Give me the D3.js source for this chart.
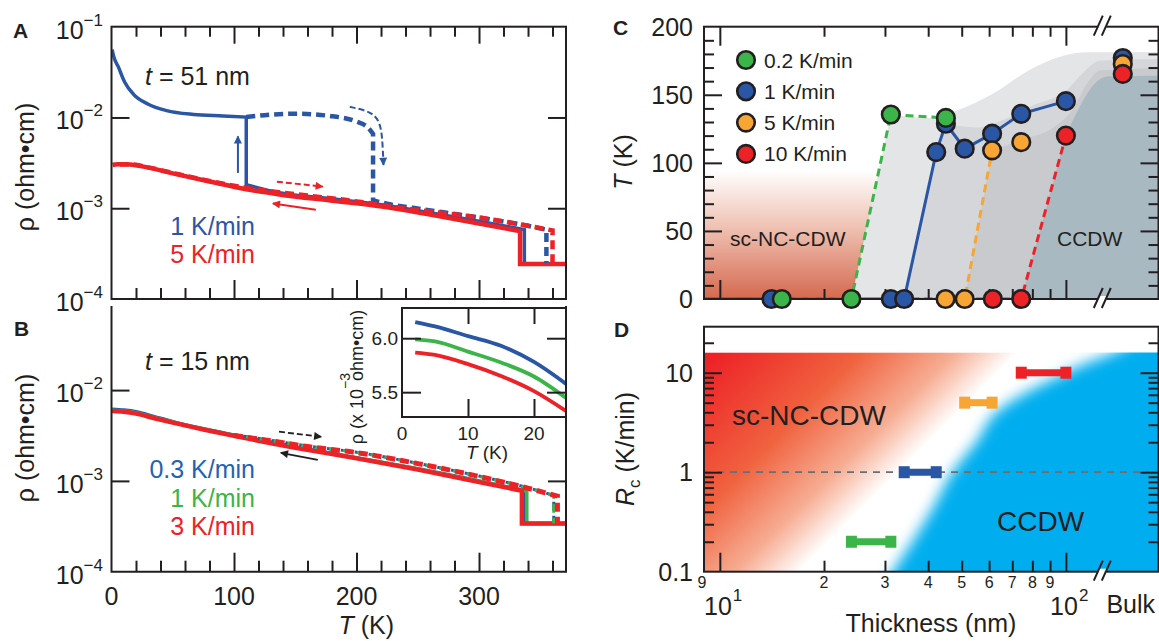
<!DOCTYPE html>
<meta charset="utf-8">
<html>
<head>
<script src="https://cdn.jsdelivr.net/npm/d3@7"></script>
<style>
  body { margin: 0; background: #fff; }
  text { font-family: "Liberation Sans", Arial, Helvetica, sans-serif; fill: #231f20; }
</style>
</head>
<body>
<div id="fig"></div>
<script>
// ---------------- data ----------------
// panel A, t = 51 nm : [T (K), rho (ohm cm)]
var aBlueCool = [[0.5,0.056],[2,0.046],[5.5,0.0363],[10.6,0.0248],[18,0.018],[30,0.014],[45,0.0119],[67,0.0108],[91,0.0104],[110,0.0101],[110,1.82e-3],[137,1.48e-3],[180,1.27e-3],[219,1.1e-3],[260,8.9e-4],[300,7.2e-4],[337,5.8e-4],[337,2.43e-4],[371,2.43e-4]];
var aRedCool  = [[1,3.0e-3],[5,3.06e-3],[15,3.04e-3],[30,2.8e-3],[50,2.42e-3],[80,1.97e-3],[110,1.62e-3],[137,1.42e-3],[180,1.21e-3],[219,1.05e-3],[260,8.5e-4],[300,6.8e-4],[333.5,5.6e-4],[333.5,2.43e-4],[371,2.43e-4]];
var aBlueWarm = [[110,0.0101],[125,0.0106],[150,0.011],[178,0.0104],[200,9.0e-3],[209,7.8e-3],[213.5,6.6e-3],[213.5,1.22e-3],[225,1.12e-3],[246,1.01e-3],[300,7.9e-4],[340,6.4e-4],[355,5.8e-4],[355,2.5e-4]];
var aRedWarm  = [[1,3.0e-3],[15,3.05e-3],[30,2.82e-3],[50,2.45e-3],[80,2.0e-3],[110,1.68e-3],[137,1.5e-3],[192,1.23e-3],[246,9.7e-4],[300,7.9e-4],[340,6.4e-4],[360,5.7e-4],[360,2.5e-4]];

// panel B, t = 15 nm
var bBlueCool  = [[0.5,6.15e-3],[10,6.02e-3],[20,5.78e-3],[35,5.1e-3],[50,4.5e-3],[75,3.75e-3],[100,3.2e-3],[150,2.37e-3],[200,1.8e-3],[250,1.36e-3],[300,1.0e-3],[337,7.8e-4],[337,3.4e-4],[371,3.4e-4]];
var bGreenCool = [[0.5,5.99e-3],[10,5.88e-3],[20,5.65e-3],[35,5.0e-3],[50,4.45e-3],[75,3.72e-3],[100,3.17e-3],[150,2.35e-3],[200,1.79e-3],[250,1.35e-3],[300,9.9e-4],[339,7.7e-4],[339,3.4e-4],[371,3.4e-4]];
var bRedCool   = [[0.5,5.87e-3],[10,5.76e-3],[20,5.51e-3],[35,4.9e-3],[50,4.38e-3],[75,3.68e-3],[100,3.13e-3],[150,2.32e-3],[200,1.77e-3],[250,1.33e-3],[300,9.7e-4],[335,7.8e-4],[335,3.4e-4],[371,3.4e-4]];
var bBlueWarm  = [[100,3.22e-3],[130,2.8e-3],[160,2.42e-3],[200,2.07e-3],[250,1.56e-3],[300,1.13e-3],[340,8.4e-4],[361,6.9e-4],[361,3.4e-4]];
var bGreenWarm = [[100,3.19e-3],[130,2.78e-3],[160,2.4e-3],[200,2.06e-3],[250,1.55e-3],[300,1.12e-3],[340,8.4e-4],[361,6.9e-4],[361,3.4e-4]];
var bRedWarm   = [[100,3.16e-3],[130,2.76e-3],[160,2.39e-3],[200,2.05e-3],[250,1.55e-3],[300,1.12e-3],[340,8.3e-4],[364,6.8e-4],[364,3.4e-4]];

// inset of B : rho in 1e-3 ohm cm
var insetT     = [2, 5, 10, 15, 20, 25];
var insetBlue  = [6.15, 6.11, 6.02, 5.93, 5.78, 5.57];
var insetGreen = [5.99, 5.97, 5.876, 5.775, 5.645, 5.44];
var insetRed   = [5.867, 5.845, 5.76, 5.65, 5.51, 5.32];

// panel C : [thickness (nm), T (K)] ; bulk plotted past the axis break
var BULK = 146, BREAK = 127.4;
var cGreenLine  = [[15.1,0],[24,0],[31.2,135.5],[45,133]];
var cBlueLine   = [[9,0],[34.1,0],[42.2,107.9],[45,128.7],[51,110.4],[61.2,121.4],[74.3,136],[100,145.3]];
var cOrangeLine = [[34.1,0],[51,0],[61.2,109.2]];
var cRedLine    = [[34.1,0],[74.3,0],[100,120]];
var cBluePts    = [[14.1,0],[31.2,0],[34.1,0],[42.2,107.9],[45,128.7],[51,110.4],[61.2,121.4],[74.3,136],[100,145.3],[BULK,177]];
var cOrangePts  = [[44.9,0],[51,0],[61.2,109.2],[74.3,115.2],[BULK,172.6]];
var cRedPts     = [[61.5,0],[74.3,0],[100,120],[BULK,165.3]];
var cGreenPts   = [[15.1,0],[24,0],[31.2,135.5],[45,133]];
// upper edges of the grey regions
var band1Top = [[31.2,135.5],[40,133],[48.4,138.5],[61.5,150.7],[78,167.8],[98.9,178.8],[114,181.2],[185.8,181.5]];
var band2Top = [[45,128.7],[55,126],[65,131],[80,142],[100,153],[112,166],[125,175],[185.8,176.3]];
var band3Top = [[61.2,109.2],[74.3,117],[92,126],[105,140],[115,158],[126,168],[185.8,169.5]];
var band4Top = [[100,120],[108,138],[116,152],[122,159],[132,163.5],[185.8,164]];
var legendRates = ["0.2 K/min", "1 K/min", "5 K/min", "10 K/min"];

// panel D
var dRates  = [0.2, 1, 5, 10];
var dThinLo = [24, 34.1, 51, 74.3];
var dThinHi = [31.2, 42.2, 61.2, 100];
var blueEdge = [[28,0.05],[31.6,0.1],[36,0.2],[41,0.42],[47,1],[55,2],[64,4.2],[78,6.5],[94,9],[115,12.5],[138,16],[170,25],[300,25],[300,0.05]];

var rateColors = ["#3bb44a", "#2a56a6", "#f7a533", "#ec2227"];
var BLUE = "#2a56a6", RED = "#ec2227", GREEN = "#3bb44a", ORANGE = "#f7a533", INK = "#231f20";

// ---------------- svg ----------------
var W = 1159, H = 641;
var svg = d3.select("#fig").append("svg").attr("width", W).attr("height", H);
var defs = svg.append("defs");

function clip(id, x0, y0, x1, y1) {
  defs.append("clipPath").attr("id", id).append("rect")
    .attr("x", x0).attr("y", y0).attr("width", x1 - x0).attr("height", y1 - y0);
}

// smooth curve that keeps vertical jumps sharp
function pathOf(pts, x, y) {
  var gen = d3.line().x(function(d){ return x(d[0]); }).y(function(d){ return y(d[1]); }).curve(d3.curveMonotoneX);
  var segs = [], cur = [pts[0]];
  for (var i = 1; i < pts.length; i++) {
    if (pts[i][0] === pts[i-1][0]) { segs.push(cur); segs.push([pts[i-1], pts[i]]); cur = [pts[i]]; }
    else cur.push(pts[i]);
  }
  segs.push(cur);
  return segs.filter(function(s){ return s.length > 1; })
    .map(function(s, i){ var p = gen(s); return i ? "L" + p.slice(1) : p; }).join("");
}

function ticks(g, axisFn, scale, vals, len, tx, ty) {
  g.append("g").attr("transform", "translate(" + tx + "," + ty + ")")
    .attr("color", INK)
    .call(axisFn(scale).tickValues(vals).tickSize(-len).tickFormat(""))
    .call(function(s){ s.select(".domain").remove(); s.selectAll("line").attr("stroke-width", 2); s.selectAll("text").remove(); });
}

function pow10(g, x, y, exp, anchor) {
  var t = g.append("text").attr("x", x).attr("y", y).attr("text-anchor", anchor || "end").attr("font-size", 25);
  t.append("tspan").text("10");
  t.append("tspan").attr("font-size", 17).attr("dy", -13).text(exp);
  return t;
}

function arrowMarker(id, color) {
  defs.append("marker").attr("id", id).attr("viewBox", "0 0 10 10")
    .attr("refX", 9).attr("refY", 5).attr("markerWidth", 11).attr("markerHeight", 8)
    .attr("markerUnits", "userSpaceOnUse").attr("orient", "auto")
    .append("path").attr("d", "M0,0L10,5L0,10Z").attr("fill", color);
}
arrowMarker("arB", BLUE); arrowMarker("arR", RED); arrowMarker("arK", INK);

// ---------------- panel A ----------------
var A = {x0: 111.5, x1: 566, y0: 26.7, y1: 299};
var xA = d3.scaleLinear().domain([0, 371]).range([A.x0, A.x1]);
var yA = d3.scaleLog().domain([1e-4, 1e-1]).range([A.y1, A.y0]);
clip("clipA", A.x0, A.y0, A.x1, A.y1);
var gA = svg.append("g");
var cA = gA.append("g").attr("clip-path", "url(#clipA)");

cA.append("path").attr("d", pathOf(aBlueCool, xA, yA)).attr("fill", "none").attr("stroke", BLUE).attr("stroke-width", 3.5);
cA.append("path").attr("d", pathOf(aRedCool, xA, yA)).attr("fill", "none").attr("stroke", RED).attr("stroke-width", 4.5);
cA.append("path").attr("d", pathOf(aBlueWarm, xA, yA)).attr("fill", "none").attr("stroke", BLUE).attr("stroke-width", 4.5).attr("stroke-dasharray", "9,5");
cA.append("path").attr("d", pathOf(aRedWarm, xA, yA)).attr("fill", "none").attr("stroke", RED).attr("stroke-width", 4.5).attr("stroke-dasharray", "9,5").attr("stroke-dashoffset", 7);

var lineA = d3.line().x(function(d){ return xA(d[0]); }).y(function(d){ return yA(d[1]); });
gA.append("path").attr("d", lineA([[103.2,2.45e-3],[103.2,6.2e-3]])).attr("stroke", BLUE).attr("stroke-width", 2).attr("marker-end", "url(#arB)");
gA.append("path").attr("d", lineA.curve(d3.curveBasis)([[194.5,1.31e-2],[212,1.16e-2],[218.5,9.2e-3],[221,6.5e-3],[222,3.0e-3]]))
  .attr("fill", "none").attr("stroke", BLUE).attr("stroke-width", 2).attr("stroke-dasharray", "6,3").attr("marker-end", "url(#arB)");
lineA.curve(d3.curveLinear);
gA.append("path").attr("d", lineA([[135,1.96e-3],[172.5,1.73e-3]])).attr("stroke", RED).attr("stroke-width", 2).attr("stroke-dasharray", "6,3").attr("marker-end", "url(#arR)");
gA.append("path").attr("d", lineA([[166.8,9.6e-4],[131.7,1.13e-3]])).attr("stroke", RED).attr("stroke-width", 2).attr("marker-end", "url(#arR)");

gA.append("rect").attr("x", A.x0).attr("y", A.y0).attr("width", A.x1 - A.x0).attr("height", A.y1 - A.y0)
  .attr("fill", "none").attr("stroke", INK).attr("stroke-width", 2);
var tT = d3.range(20, 371, 20).filter(function(v){ return v % 100; });
ticks(gA, d3.axisTop, xA, tT, 10, 0, A.y0);
ticks(gA, d3.axisTop, xA, [100, 200, 300], 17, 0, A.y0);
ticks(gA, d3.axisBottom, xA, tT, 11, 0, A.y1);
ticks(gA, d3.axisBottom, xA, [100, 200, 300], 19, 0, A.y1);
ticks(gA, d3.axisLeft, yA, [1e-3, 1e-2], 18, A.x0, 0);
ticks(gA, d3.axisRight, yA, [1e-3, 1e-2], 18, A.x1, 0);
[["\u22121",1e-1],["\u22122",1e-2],["\u22123",1e-3],["\u22124",1e-4]].forEach(function(d){ pow10(gA, 103, yA(d[1]) + 12, d[0]); });
gA.append("text").attr("transform", "translate(34,167) rotate(-90)").attr("text-anchor", "middle").attr("font-size", 25).text("\u03c1 (ohm\u2022cm)");
var tA = gA.append("text").attr("x", 145).attr("y", 85).attr("font-size", 25);
tA.append("tspan").attr("font-style", "italic").text("t");
tA.append("tspan").text(" = 51 nm");
gA.append("text").attr("x", 255).attr("y", 235).attr("text-anchor", "end").attr("font-size", 25).style("fill", BLUE).text("1 K/min");
gA.append("text").attr("x", 255).attr("y", 263).attr("text-anchor", "end").attr("font-size", 25).style("fill", RED).text("5 K/min");
gA.append("text").attr("x", 13).attr("y", 38).attr("font-size", 21).attr("font-weight", "bold").text("A");

// ---------------- panel B ----------------
var B = {x0: 111.5, x1: 566, y0: 306, y1: 571.7};
var xB = d3.scaleLinear().domain([0, 371]).range([B.x0, B.x1]);
var yB = d3.scaleLog().domain([1e-4, Math.pow(10, -1.074)]).range([B.y1, B.y0]);
clip("clipB", B.x0, B.y0, B.x1, B.y1);
var gB = svg.append("g");
var cB = gB.append("g").attr("clip-path", "url(#clipB)");
[[bBlueCool, BLUE, 3.5], [bGreenCool, GREEN, 3.5], [bRedCool, RED, 4.5]].forEach(function(s){
  cB.append("path").attr("d", pathOf(s[0], xB, yB)).attr("fill", "none").attr("stroke", s[1]).attr("stroke-width", s[2]);
});
[[bBlueWarm, BLUE, 3, 4], [bGreenWarm, GREEN, 3, 2], [bRedWarm, RED, 5, 0]].forEach(function(s){
  cB.append("path").attr("d", pathOf(s[0], xB, yB)).attr("fill", "none").attr("stroke", s[1]).attr("stroke-width", s[2])
    .attr("stroke-dasharray", "9,5").attr("stroke-dashoffset", s[3]);
});
var lineB = d3.line().x(function(d){ return xB(d[0]); }).y(function(d){ return yB(d[1]); });
gB.append("path").attr("d", lineB([[136.7,3.48e-3],[171.3,3.06e-3]])).attr("stroke", INK).attr("stroke-width", 1.8).attr("stroke-dasharray", "6,3").attr("marker-end", "url(#arK)");
gB.append("path").attr("d", lineB([[168.4,1.7e-3],[138.2,2.04e-3]])).attr("stroke", INK).attr("stroke-width", 1.8).attr("marker-end", "url(#arK)");

gB.append("path").attr("d", "M" + B.x0 + "," + B.y0 + "V" + B.y1 + "H" + B.x1 + "V" + B.y0)
  .attr("fill", "none").attr("stroke", INK).attr("stroke-width", 2);
ticks(gB, d3.axisBottom, xB, tT, 11, 0, B.y1);
ticks(gB, d3.axisBottom, xB, [100, 200, 300], 19, 0, B.y1);
ticks(gB, d3.axisLeft, yB, [1e-3, 1e-2], 18, B.x0, 0);
ticks(gB, d3.axisRight, yB, [1e-3, 1e-2], 18, B.x1, 0);
[["\u22122",1e-2],["\u22123",1e-3],["\u22124",1e-4]].forEach(function(d){ pow10(gB, 103, yB(d[1]) + 12, d[0]); });
[0, 100, 200, 300].forEach(function(v){
  gB.append("text").attr("x", xB(v)).attr("y", 605).attr("text-anchor", "middle").attr("font-size", 25).text(v);
});
var tBx = gB.append("text").attr("x", xB(208)).attr("y", 634).attr("text-anchor", "middle").attr("font-size", 25);
tBx.append("tspan").attr("font-style", "italic").text("T");
tBx.append("tspan").text(" (K)");
gB.append("text").attr("transform", "translate(34,438) rotate(-90)").attr("text-anchor", "middle").attr("font-size", 25).text("\u03c1 (ohm\u2022cm)");
var tB = gB.append("text").attr("x", 145).attr("y", 370).attr("font-size", 25);
tB.append("tspan").attr("font-style", "italic").text("t");
tB.append("tspan").text(" = 15 nm");
[["0.3 K/min", "#1f63b3", 478], ["1 K/min", GREEN, 507], ["3 K/min", RED, 535]].forEach(function(d){
  gB.append("text").attr("x", 255).attr("y", d[2]).attr("text-anchor", "end").attr("font-size", 25).style("fill", d[1]).text(d[0]);
});
gB.append("text").attr("x", 14).attr("y", 336).attr("font-size", 21).attr("font-weight", "bold").text("B");

// inset
var I = {x0: 402, x1: 566, y0: 308, y1: 417};
var xI = d3.scaleLinear().domain([0, 24.85]).range([I.x0, I.x1]);
var yI = d3.scaleLinear().domain([5.27, 6.28]).range([I.y1, I.y0]);
var gI = gB.append("g");
gI.append("rect").attr("x", I.x0).attr("y", I.y0).attr("width", I.x1 - I.x0).attr("height", I.y1 - I.y0).attr("fill", "#fff");
clip("clipI", I.x0, I.y0, I.x1, I.y1);
var lineI = d3.line().x(function(d){ return xI(d[0]); }).y(function(d){ return yI(d[1]); }).curve(d3.curveMonotoneX);
[[insetBlue, BLUE], [insetGreen, GREEN], [insetRed, RED]].forEach(function(s){
  gI.append("path").attr("clip-path", "url(#clipI)").attr("d", lineI(insetT.map(function(t, i){ return [t, s[0][i]]; })))
    .attr("fill", "none").attr("stroke", s[1]).attr("stroke-width", 3.8);
});
gI.append("rect").attr("x", I.x0).attr("y", I.y0).attr("width", I.x1 - I.x0).attr("height", I.y1 - I.y0)
  .attr("fill", "none").attr("stroke", INK).attr("stroke-width", 2);
ticks(gI, d3.axisTop, xI, [10, 20], 16, 0, I.y0);
ticks(gI, d3.axisBottom, xI, [10, 20], 18, 0, I.y1);
ticks(gI, d3.axisLeft, yI, [5.5, 6.0], 19, I.x0, 0);
ticks(gI, d3.axisRight, yI, [5.5, 6.0], 19, I.x1, 0);
[5.5, 6.0].forEach(function(v){
  gI.append("text").attr("x", 398).attr("y", yI(v) + 7).attr("text-anchor", "end").attr("font-size", 19).text(v.toFixed(1));
});
[0, 10, 20].forEach(function(v){
  gI.append("text").attr("x", xI(v)).attr("y", 440).attr("text-anchor", "middle").attr("font-size", 19).text(v);
});
var tIx = gI.append("text").attr("x", 487).attr("y", 459).attr("text-anchor", "middle").attr("font-size", 19);
tIx.append("tspan").attr("font-style", "italic").text("T");
tIx.append("tspan").text(" (K)");
var tIy = gI.append("text").attr("transform", "translate(363,377) rotate(-90)").attr("text-anchor", "middle").attr("font-size", 18);
tIy.append("tspan").text("\u03c1 (x 10");
tIy.append("tspan").attr("font-size", 14).attr("dy", -13).text("\u22123");
tIy.append("tspan").attr("dx", -8).attr("dy", 13).text("ohm\u2022cm)");

// ---------------- panels C and D, shared thickness axis ----------------
var xT = d3.scaleLog().domain([9, 185.8]).range([704, 1159]);
var C = {x0: 704, x1: 1158.5, y0: 26.7, y1: 299};
var yC = d3.scaleLinear().domain([0, 200]).range([C.y1, C.y0]);
clip("clipC", C.x0, C.y0, C.x1, C.y1);
var gC = svg.append("g");
var cC = gC.append("g").attr("clip-path", "url(#clipC)");

var gradC = defs.append("linearGradient").attr("id", "gradC").attr("gradientUnits", "userSpaceOnUse")
  .attr("x1", 0).attr("y1", yC(95)).attr("x2", 0).attr("y2", yC(0));
gradC.append("stop").attr("offset", 0).attr("stop-color", "#ffffff");
gradC.append("stop").attr("offset", 0.45).attr("stop-color", "#efc1b2");
gradC.append("stop").attr("offset", 1).attr("stop-color", "#d5694f");
cC.append("rect").attr("x", C.x0).attr("y", yC(95)).attr("width", xT(32) - C.x0).attr("height", yC(0) - yC(95)).attr("fill", "url(#gradC)");

var topGen = d3.line().x(function(d){ return xT(d[0]); }).y(function(d){ return yC(d[1]); }).curve(d3.curveMonotoneX);
function band(leftEdge, top, color) {
  // leftEdge goes from the T = 0 foot up to the first point of top
  var p = topGen(top) + "L" + xT(185.8) + "," + yC(0);
  leftEdge.forEach(function(d){ p += "L" + xT(d[0]) + "," + yC(d[1]); });
  cC.append("path").attr("d", p + "Z").attr("fill", color);
}
band([[24,0]], band1Top, "#e4e5e7");
band([[34.1,0],[42.2,107.9]], band2Top, "#d5d6d9");
band([[51,0]], band3Top, "#c8cacd");
band([[74.3,0]], band4Top, "#a8b9c2");

var lineC = d3.line().x(function(d){ return xT(d[0]); }).y(function(d){ return yC(d[1]); });
cC.append("path").attr("d", lineC(cBlueLine)).attr("fill", "none").attr("stroke", BLUE).attr("stroke-width", 3);
cC.append("path").attr("d", lineC(cGreenLine)).attr("fill", "none").attr("stroke", GREEN).attr("stroke-width", 3).attr("stroke-dasharray", "8,5");
cC.append("path").attr("d", lineC(cOrangeLine)).attr("fill", "none").attr("stroke", ORANGE).attr("stroke-width", 3).attr("stroke-dasharray", "8,5");
cC.append("path").attr("d", lineC(cRedLine)).attr("fill", "none").attr("stroke", RED).attr("stroke-width", 3).attr("stroke-dasharray", "8,5").attr("stroke-dashoffset", 6);

gC.append("rect").attr("x", C.x0).attr("y", C.y0).attr("width", C.x1 - C.x0).attr("height", C.y1 - C.y0)
  .attr("fill", "none").attr("stroke", INK).attr("stroke-width", 2);
var tMinor = [20, 30, 40, 50, 60, 70, 80, 90];
ticks(gC, d3.axisTop, xT, tMinor, 10, 0, C.y0);
ticks(gC, d3.axisTop, xT, [10, 100], 19, 0, C.y0);
ticks(gC, d3.axisBottom, xT, tMinor, 10, 0, C.y1);
ticks(gC, d3.axisBottom, xT, [10, 100], 19, 0, C.y1);
var cMinor = d3.range(10, 200, 10).filter(function(v){ return v % 50; });
ticks(gC, d3.axisLeft, yC, cMinor, 10, C.x0, 0);
ticks(gC, d3.axisLeft, yC, [50, 100, 150], 18, C.x0, 0);
ticks(gC, d3.axisRight, yC, cMinor, 10, C.x1, 0);
ticks(gC, d3.axisRight, yC, [50, 100, 150], 18, C.x1, 0);

// markers (blue first so the others sit on top)
[[cBluePts, BLUE], [cOrangePts, ORANGE], [cRedPts, RED], [cGreenPts, GREEN]].forEach(function(s){
  gC.append("g").selectAll("circle").data(s[0]).join("circle")
    .attr("cx", function(d){ return xT(d[0]); }).attr("cy", function(d){ return yC(d[1]); })
    .attr("r", 8.8).attr("fill", s[1]).attr("stroke", INK).attr("stroke-width", 2.6);
});

function axisBreak(g, x, y) {
  g.append("rect").attr("x", x - 4).attr("y", y - 3).attr("width", 8).attr("height", 6).attr("fill", "#fff");
  [-4, 4].forEach(function(o){
    g.append("line").attr("x1", x + o - 4.5).attr("y1", y + 9).attr("x2", x + o + 4.5).attr("y2", y - 11)
      .attr("stroke", INK).attr("stroke-width", 2);
  });
}
axisBreak(gC, xT(BREAK), C.y0);
axisBreak(gC, xT(BREAK), C.y1);

[0, 50, 100, 150, 200].forEach(function(v){
  gC.append("text").attr("x", 693).attr("y", yC(v) + 9).attr("text-anchor", "end").attr("font-size", 25).text(v);
});
var tCy = gC.append("text").attr("transform", "translate(632,162) rotate(-90)").attr("text-anchor", "middle").attr("font-size", 25);
tCy.append("tspan").attr("font-style", "italic").text("T");
tCy.append("tspan").text(" (K)");
legendRates.forEach(function(r, i){
  var yy = 60 + i * 31.3;
  gC.append("circle").attr("cx", 746).attr("cy", yy).attr("r", 8.8).attr("fill", rateColors[i]).attr("stroke", INK).attr("stroke-width", 2.6);
  gC.append("text").attr("x", 764).attr("y", yy + 7.5).attr("font-size", 21).text(r);
});
gC.append("text").attr("x", 730).attr("y", 246).attr("font-size", 21).text("sc-NC-CDW");
gC.append("text").attr("x", 1057).attr("y", 246).attr("font-size", 21).text("CCDW");
gC.append("text").attr("x", 613).attr("y", 35).attr("font-size", 21).attr("font-weight", "bold").text("C");

// ---------------- panel D ----------------
var D = {x0: 704, x1: 1158.5, y0: 326.7, y1: 571.7};
var yD = d3.scaleLog().domain([0.1, 29]).range([D.y1, D.y0]);
clip("clipD", D.x0, yD(16), D.x1, D.y1);
var gD = svg.append("g");
var cD = gD.append("g").attr("clip-path", "url(#clipD)");

var gradD = defs.append("linearGradient").attr("id", "gradD").attr("gradientUnits", "userSpaceOnUse")
  .attr("x1", D.x0).attr("y1", yD(16)).attr("x2", D.x0 + 157).attr("y2", yD(16) + 157);
gradD.append("stop").attr("offset", 0).attr("stop-color", "#ed1c24");
gradD.append("stop").attr("offset", 0.5).attr("stop-color", "#f0623f");
gradD.append("stop").attr("offset", 0.8).attr("stop-color", "#f6ad93");
gradD.append("stop").attr("offset", 1).attr("stop-color", "#ffffff");
cD.append("rect").attr("x", D.x0).attr("y", yD(16)).attr("width", D.x1 - D.x0).attr("height", D.y1 - yD(16)).attr("fill", "url(#gradD)");

defs.append("filter").attr("id", "soft").attr("x", "-20%").attr("y", "-20%").attr("width", "140%").attr("height", "140%")
  .append("feGaussianBlur").attr("stdDeviation", 7);
var lineD = d3.line().x(function(d){ return xT(d[0]); }).y(function(d){ return yD(d[1]); });
cD.append("path").attr("d", lineD.curve(d3.curveMonotoneY)(blueEdge.slice(0, 12)) + lineD.curve(d3.curveLinear)(blueEdge.slice(11)).replace("M", "L") + "Z")
  .attr("fill", "#00aeef").attr("filter", "url(#soft)");

gD.append("line").attr("x1", D.x0).attr("x2", D.x1).attr("y1", yD(1)).attr("y2", yD(1))
  .attr("stroke", "#6d6e71").attr("stroke-width", 1.8).attr("stroke-dasharray", "7,6");

dRates.forEach(function(r, i){
  var y = yD(r), a = xT(dThinLo[i]), b = xT(dThinHi[i]);
  gD.append("line").attr("x1", a).attr("x2", b).attr("y1", y).attr("y2", y).attr("stroke", rateColors[i]).attr("stroke-width", 7);
  [a, b].forEach(function(x){
    gD.append("rect").attr("x", x - 5.5).attr("y", y - 6).attr("width", 11).attr("height", 12).attr("fill", rateColors[i]);
  });
});

gD.append("rect").attr("x", D.x0).attr("y", D.y0).attr("width", D.x1 - D.x0).attr("height", D.y1 - D.y0)
  .attr("fill", "none").attr("stroke", INK).attr("stroke-width", 2);
ticks(gD, d3.axisBottom, xT, tMinor, 11, 0, D.y1);
ticks(gD, d3.axisBottom, xT, [10, 100], 19, 0, D.y1);
var dMinor = [0.2,0.3,0.4,0.5,0.6,0.7,0.8,0.9,2,3,4,5,6,7,8,9,20];
ticks(gD, d3.axisLeft, yD, dMinor, 10, D.x0, 0);
ticks(gD, d3.axisLeft, yD, [1, 10], 18, D.x0, 0);
ticks(gD, d3.axisRight, yD, dMinor, 10, D.x1, 0);
ticks(gD, d3.axisRight, yD, [1, 10], 18, D.x1, 0);
axisBreak(gD, xT(BREAK), D.y1);

[[10, "10"], [1, "1"], [0.1, "0.1"]].forEach(function(d){
  gD.append("text").attr("x", 693).attr("y", yD(d[0]) + 9).attr("text-anchor", "end").attr("font-size", 25).text(d[1]);
});
[9, 20, 30, 40, 50, 60, 70, 80, 90].forEach(function(v){
  gD.append("text").attr("x", xT(v) - (v === 9 ? 2 : 0)).attr("y", 588).attr("text-anchor", "middle").attr("font-size", 16).text(String(v).charAt(0));
});
// decade labels: "10" and exponent as separate texts
[[10, "1"], [100, "2"]].forEach(function(d){
  var xc = xT(d[0]) - 2;
  gD.append("text").attr("x", xc + 14).attr("y", 615).attr("text-anchor", "end").attr("font-size", 25).text("10");
  gD.append("text").attr("x", xc + 15).attr("y", 601).attr("font-size", 17).text(d[1]);
});
gD.append("text").attr("x", xT(BULK) + 8).attr("y", 613).attr("text-anchor", "middle").attr("font-size", 25).text("Bulk");
gD.append("text").attr("x", 931).attr("y", 632).attr("text-anchor", "middle").attr("font-size", 25).text("Thickness (nm)");
var tDy = gD.append("text").attr("transform", "translate(634,449) rotate(-90)").attr("text-anchor", "middle").attr("font-size", 25);
tDy.append("tspan").attr("font-style", "italic").text("R");
tDy.append("tspan").attr("font-size", 17).attr("dy", 6).text("c");
tDy.append("tspan").attr("dy", -6).text(" (K/min)");
gD.append("text").attr("x", 732).attr("y", 425).attr("font-size", 28).text("sc-NC-CDW");
gD.append("text").attr("x", 997).attr("y", 531).attr("font-size", 28).text("CCDW");
gD.append("text").attr("x", 614).attr("y", 337).attr("font-size", 21).attr("font-weight", "bold").text("D");
</script>
</body>
</html>
